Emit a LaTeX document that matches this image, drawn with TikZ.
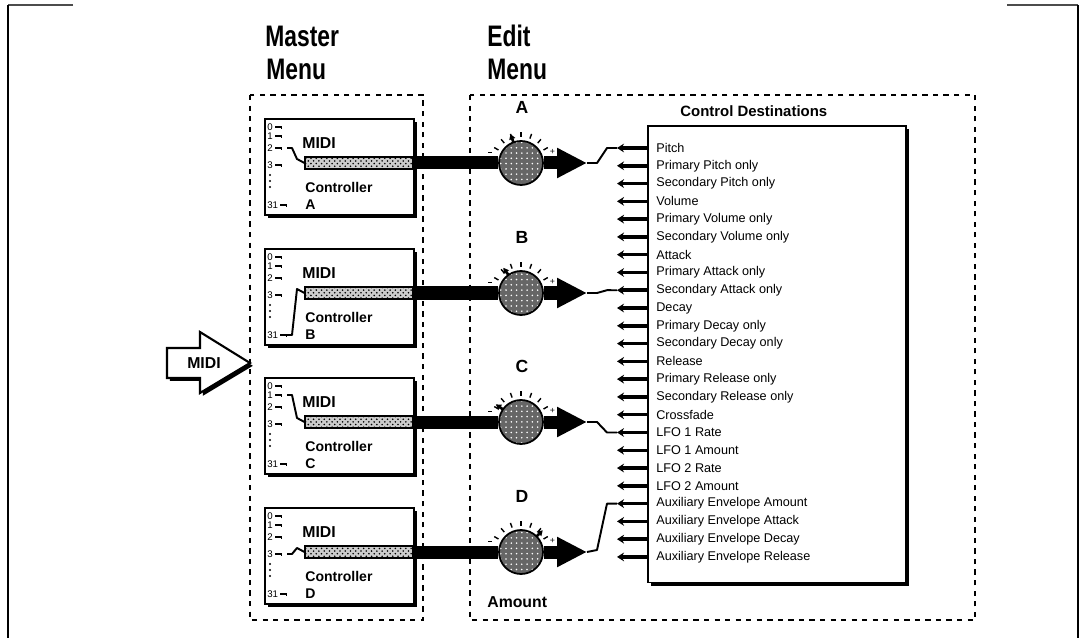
\documentclass[tikz,border=0pt]{standalone}
\usepackage{fontspec}
\setmainfont{Liberation Sans}
\usetikzlibrary{arrows.meta,patterns,shadows}
\tikzset{
  ttl/.style={font=\fontsize{13}{13}\selectfont\bfseries, anchor=base west, inner sep=0pt},
  shd/.style={drop shadow={shadow xshift=1.6pt, shadow yshift=-1.6pt, fill=black, opacity=1}},
  ctl/.style={draw, line width=0.9pt, fill=white, shd, anchor=north west, minimum width=2.98cm, minimum height=1.92cm, inner sep=0pt},
  bar/.style={draw, line width=0.6pt, preaction={fill=black!20}, pattern=crosshatch dots, minimum width=2.16cm, minimum height=0.24cm, inner sep=0pt},
  knob/.style={circle, draw, line width=1pt, minimum size=0.88cm, inner sep=0pt, preaction={fill=black!60}, pattern=dots, pattern color=white},
  feed/.style={line width=7.4pt},
  pin/.style={line width=2pt, -{Stealth[length=4pt,width=5pt]}},
  wire/.style={line width=1.1pt, line join=round},
  lbl/.style={font=\fontsize{7.2}{7.2}\selectfont, anchor=west, inner sep=0pt},
  num/.style={font=\fontsize{5.5}{5.5}\selectfont, anchor=west, inner sep=0pt},
  bld/.style={font=\fontsize{#1}{#1}\selectfont\bfseries, anchor=west, inner sep=0pt},
}
\begin{document}
\begin{tikzpicture}[x=0.02cm,y=-0.02cm]
\useasboundingbox (0,0) rectangle (1081,638);
% outer frame
\draw[line width=1.3pt,black!70] (73,5) -- (8,5); \draw[line width=1.3pt,black!70] (1007,5) -- (1078,5);
\draw[line width=1.2pt] (8,5) -- (8,638); \draw[line width=1.2pt] (1078,5) -- (1078,638);
% titles and menus
\node[ttl] (mst) at (265,47) {\scalebox{1}[1.3]{Master}};
\node[ttl] (mmenu) at (266,80) {\scalebox{1}[1.3]{Menu}};
\node[ttl] (edt) at (487,47) {\scalebox{1}[1.3]{Edit}};
\node[ttl] (emenu) at (487,80) {\scalebox{1}[1.3]{Menu}};
\draw[dashed,line width=0.8pt] (250,95) rectangle (423,620);
\draw[dashed,line width=0.8pt] (470,95) rectangle (975,620);
% destination list
\node[draw, line width=0.9pt, fill=white, shd, anchor=north west, minimum width=5.16cm, minimum height=9.14cm] (dbox) at (647,125) {};
\node[bld=8.5, anchor=base west] (dtitle) at (680,117) {Control Destinations};
\foreach \d [count=\i from 0] in {Pitch, Primary Pitch only, Secondary Pitch only, Volume, Primary Volume only, Secondary Volume only, Attack, Primary Attack only, Secondary Attack only, Decay, Primary Decay only, Secondary Decay only, Release, Primary Release only, Secondary Release only, Crossfade, LFO 1 Rate, LFO 1 Amount, LFO 2 Rate, LFO 2 Amount, Auxiliary Envelope Amount, Auxiliary Envelope Attack, Auxiliary Envelope Decay, Auxiliary Envelope Release} {
  \node[lbl] (dst\i) at (656,{148+\i*17.78}) {\d};
  \coordinate (pin\i) at (617,{148+\i*17.78});
  \draw[pin] (dst\i.west -| dbox.west) -- (pin\i);
}
% four controllers, knobs and feeds
\foreach \n/\t/\s/\p in {A/118/30/110, B/248/87/125, C/377/18/145, D/507/47/45} {
  \node[ctl] (ctl\n) at (264,\t) {};
  \foreach \k/\dy in {0/9,1/18,2/30,3/47,31/87} {
    \node[num] (n\n\k) at (267,\t+\dy) {\k};
    \draw[line width=0.6pt] (n\n\k.east) ++(2,0) -- ++(6,0) -- ++(0,2);
  }
  \foreach \dy in {57,63,69} \fill (270,\t+\dy) circle (0.7pt);
  \node[bld=9] (midi\n) at (302,\t+25) {MIDI};
  \node[bld=8] (cname\n) at (305,\t+69) {Controller};
  \node[bld=8] (cl\n) at (305,\t+87) {\n};
  \node[bar] (bar\n) at (359,\t+45) {};
  \draw[wire] (287,\t+\s) -- (292,\t+\s) -- (297,\t+41) -- (bar\n.west);
  \node[knob] (knob\n) at (521,\t+45) {};
  \coordinate (tip\n) at (587,\t+45);
  \draw[feed] (bar\n.east) -- (knob\n.west);
  \draw[feed,-{Triangle[length=17pt,width=16pt]}] (knob\n.east) -- (tip\n);
  \foreach \a in {30,50,...,150} \draw[line width=0.8pt] (knob\n.center) ++(\a:14.8pt) -- ++(\a:2.8pt);
  \draw[line width=0.8pt] (knob\n.center) ++(160:17.5pt) -- ++(-2.5pt,0);
  \node[font=\tiny, inner sep=0pt] (plus\n) at ([shift={(20:19pt)}]knob\n.center) {+};
  \draw[line width=1.5pt,-{Triangle[length=3pt,width=3.5pt]}] (knob\n.center) ++(\p:12.5pt) -- ++(\p:5pt);
  \node[bld=10, anchor=center] (kl\n) at (522,\t-11) {\n};
}
\node[bld=9] (amount) at (487,602) {Amount};
% knob outputs to destinations
\draw[wire] (tipA) -- ++(10,0) -- (607,148) -- (pin0);
\draw[wire] (tipB) -- ++(10,0) -- (607,290.2) -- (pin8);
\draw[wire] (tipC) -- ++(10,0) -- (607,432.5) -- (pin16);
\draw[wire] (tipD) -- ++(10,-2) -- (607,503.6) -- (pin20);
% midi input
\draw[line width=1.2pt, fill=white, shd] (167,348) -- (200,348) -- (200,332) -- (250,363) -- (200,393) -- (200,378) -- (167,378) -- cycle;
\node[bld=9, anchor=center] (midiin) at (204,363) {MIDI};
\end{tikzpicture}
\end{document}
